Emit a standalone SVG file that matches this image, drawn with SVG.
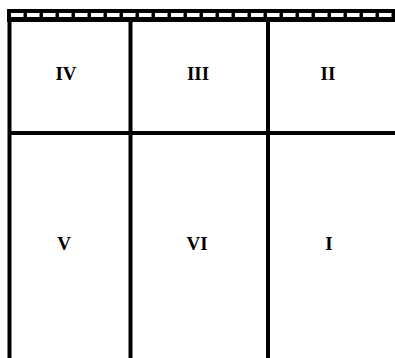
<svg xmlns="http://www.w3.org/2000/svg" width="395" height="358" viewBox="0 0 395 358">
<style>
.ln{stroke:#000;stroke-width:4;fill:none}
.lbl{font-family:"Liberation Serif","Times New Roman",serif;font-weight:bold;font-size:19px;fill:#000;text-anchor:middle}
</style>
<rect width="395" height="358" fill="#fff"/>
<g id="band">
<rect x="7" y="9" width="388" height="13" fill="#000"/>
<line x1="11" y1="15" x2="395" y2="15" stroke="#fff" stroke-width="4" stroke-dasharray="12.5 3.5"/>
</g>
<g id="connectors">
<line class="ln" x1="9.5" y1="20" x2="9.5" y2="358"/>
<line class="ln" x1="130.5" y1="20" x2="130.5" y2="358"/>
<line class="ln" x1="268" y1="20" x2="268" y2="358"/>
<line class="ln" x1="9.5" y1="133" x2="395" y2="133"/>
</g>
<g id="IV"><text class="lbl" x="66" y="80">IV</text></g>
<g id="III"><text class="lbl" x="198" y="80">III</text></g>
<g id="II"><text class="lbl" x="328" y="80">II</text></g>
<g id="V"><text class="lbl" x="64" y="250">V</text></g>
<g id="VI"><text class="lbl" x="197" y="250">VI</text></g>
<g id="I"><text class="lbl" x="329" y="250">I</text></g>
</svg>
